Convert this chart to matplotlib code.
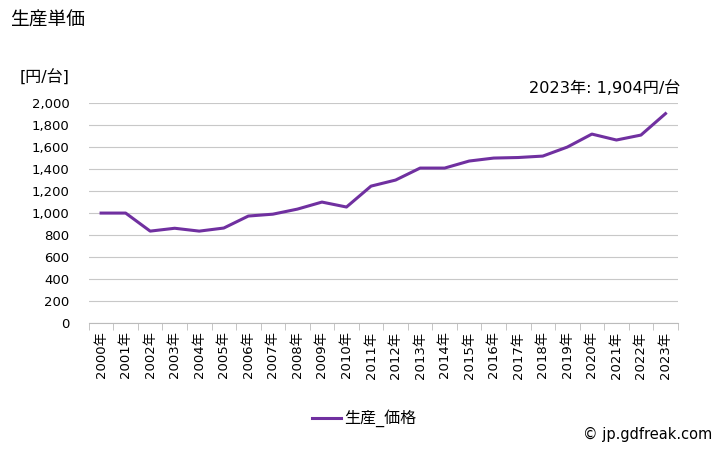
import numpy as np
import matplotlib.pyplot as plt
from matplotlib.ticker import FixedLocator, FuncFormatter

plt.rcParams['font.family'] = ['DejaVu Sans', 'Noto Sans CJK JP']

# ===== Data =====
years = [str(y) + "年" for y in range(2000, 2024)]
price = [1000, 1000, 836, 862, 836, 864, 973, 990, 1036, 1100, 1055, 1245,
         1300, 1409, 1409, 1473, 1500, 1505, 1518, 1600, 1718, 1664, 1709, 1904]

title = "生産単価"
unit = "[円/台]"
series_name = "生産_価格"
line_color = "#7030A0"

# ===== Plot =====
fig = plt.figure(figsize=(7.28, 4.5), dpi=100)
ax = fig.add_axes([0.122, 0.282, 0.809, 0.489])

x = np.arange(len(years))
ax.plot(x, price, color=line_color, linewidth=2.2, label=series_name,
        solid_joinstyle='round')

ax.set_xlim(-0.5, len(years) - 0.5)
ax.set_ylim(0, 2000)
ax.set_yticks(np.arange(0, 2001, 200))
ax.yaxis.set_major_formatter(FuncFormatter(lambda v, p: f"{int(v):,}"))
ax.grid(axis='y', color='#c8c8c8', linewidth=0.8)
ax.set_axisbelow(True)

ax.set_xticks(x)
ax.set_xticklabels(years, rotation=90, fontsize=9.5)
ax.xaxis.set_minor_locator(FixedLocator(np.arange(-0.5, len(years), 1)))
ax.tick_params(axis='x', which='major', length=0, pad=6)
ax.tick_params(axis='x', which='minor', length=5, color='#bbbbbb')
ax.tick_params(axis='y', length=0, labelsize=9.5, pad=14)

for s in ['top', 'right', 'left']:
    ax.spines[s].set_visible(False)
ax.spines['bottom'].set_color('#bbbbbb')

# ===== Texts =====
fig.text(0.014, 0.955, title, fontsize=13.5, ha='left', va='center')
fig.text(0.027, 0.827, unit, fontsize=11.5, ha='left', va='center')
fig.text(0.935, 0.805, f"2023年: {price[-1]:,}円/台", fontsize=11.6,
         ha='right', va='center')
fig.text(0.978, 0.035, "© jp.gdfreak.com", fontsize=10.5, ha='right', va='center')

fig.legend(loc='center', bbox_to_anchor=(0.5, 0.07), frameon=False,
           fontsize=11.5, handlelength=1.8, handletextpad=0.2)

fig.savefig("out.png", dpi=100)
